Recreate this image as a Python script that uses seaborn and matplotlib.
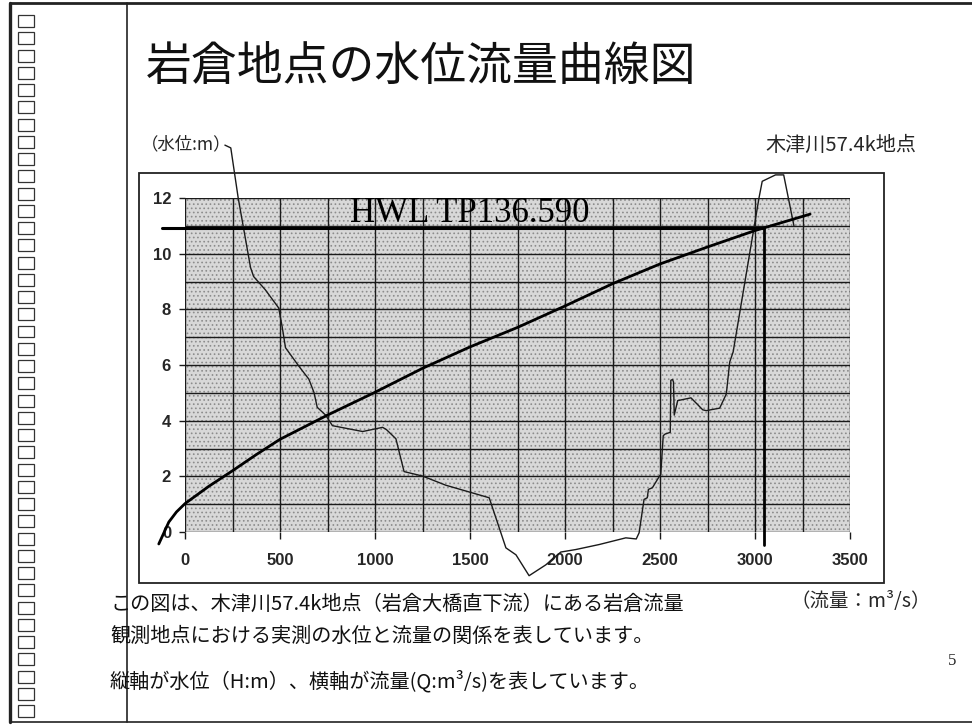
import matplotlib
matplotlib.use("Agg")
import matplotlib.pyplot as plt
from matplotlib.patches import Rectangle
from matplotlib.lines import Line2D
import seaborn as sns
import pandas as pd

# ---------------- data ----------------
# rating curve (discharge Q m3/s, stage H m)
rating_q = [-138, -85, -45, 0, 125, 250, 375, 500, 750, 1000, 1250, 1500,
            1750, 2000, 2250, 2500, 2750, 3000, 3290]
rating_h = [-0.43, 0.36, 0.72, 1.02, 1.64, 2.20, 2.78, 3.33, 4.20, 5.02, 5.88,
            6.65, 7.35, 8.12, 8.92, 9.63, 10.24, 10.83, 11.42]

# river cross-section overlay (thin line)
section_q = [210, 241, 280, 306, 345, 361, 423, 493, 511, 529, 599, 652, 679,
             696, 740, 776, 882, 935, 1040, 1060, 1110, 1153, 1250, 1373, 1601,
             1689, 1742, 1811, 1899, 1978, 2057, 2180, 2320, 2375, 2390, 2416,
             2433, 2439, 2460, 2492, 2504, 2517, 2527, 2554, 2557, 2566, 2571,
             2575, 2593, 2663, 2725, 2743, 2814, 2849, 2867, 2885, 3021, 3038,
             3108, 3151, 3205]
section_h = [13.9, 13.8, 12.0, 11.0, 9.5, 9.18, 8.70, 8.05, 7.39, 6.62, 5.96,
             5.49, 5.01, 4.48, 4.20, 3.82, 3.68, 3.61, 3.76, 3.68, 3.35, 2.17,
             2.01, 1.68, 1.23, -0.57, -0.82, -1.57, -1.18, -0.72, -0.63, -0.45,
             -0.21, -0.25, -0.03, 1.17, 1.23, 1.53, 1.59, 1.95, 2.07, 3.46,
             3.52, 3.58, 5.45, 5.48, 5.39, 4.20, 4.72, 4.82, 4.39, 4.36, 4.45,
             4.96, 6.11, 6.47, 12.0, 12.6, 12.83, 12.83, 11.0]

# HWL marker
hwl_level = 10.93
hwl_q_start = -121
hwl_cross_q = 3045
hwl_drop_to = -0.47

x_ticks = [0, 500, 1000, 1500, 2000, 2500, 3000, 3500]
y_ticks = [0, 2, 4, 6, 8, 10, 12]

title = "岩倉地点の水位流量曲線図"
y_label = "（水位:m）"
place_label = "木津川57.4k地点"
hwl_label = "HWL TP136.590"
unit_label = "（流量：m³/s）"
body_lines = ["この図は、木津川57.4k地点（岩倉大橋直下流）にある岩倉流量",
              "観測地点における実測の水位と流量の関係を表しています。",
              "縦軸が水位（H:m）、横軸が流量(Q:m³/s)を表しています。"]
page_no = "5"

# ---------------- style ----------------
sns.set_theme(style="white")
plt.rcParams["font.family"] = ["Noto Sans CJK JP", "DejaVu Sans"]
plt.rcParams["hatch.linewidth"] = 0.7

W, H = 972, 727
fig = plt.figure(figsize=(9.72, 7.27), dpi=100)
fig.patch.set_facecolor("white")


def fx(px):
    return px / W


def fy(py):
    return 1 - py / H


# slide frame
for (x0, y0, x1, y1, lw) in [(10, 3, 972, 3, 2.0), (10, 3, 10, 722, 2.4),
                             (10, 722, 972, 722, 1.2), (127, 3, 127, 722, 1.2)]:
    fig.add_artist(Line2D([fx(x0), fx(x1)], [fy(y0), fy(y1)], color="#222222",
                          lw=lw, transform=fig.transFigure))

# placeholder glyph boxes down the left margin
for i in range(41):
    top = 15 + i * 17.25
    fig.add_artist(Rectangle((fx(18), fy(top + 12)), 16 / W, 12 / H,
                             transform=fig.transFigure, fill=False,
                             edgecolor="#333333", lw=0.9))

# title
fig.text(fx(146), fy(68), title, fontsize=33, va="center", ha="left",
         color="#111111")

# chart outer box
fig.add_artist(Rectangle((fx(139), fy(583)), (884 - 139) / W, (583 - 173) / H,
                         transform=fig.transFigure, fill=False,
                         edgecolor="#222222", lw=1.3))

fig.text(fx(141), fy(144), y_label, fontsize=12.5, va="center", ha="left")
fig.text(fx(765), fy(145), place_label, fontsize=14.5, va="center", ha="left")

# ---------------- axes ----------------
ax = fig.add_axes([fx(185), fy(532), (850 - 185) / W, (532 - 198) / H])
ax.set_xlim(0, 3500)
ax.set_ylim(0, 12)
ax.set_facecolor("#d8d8d8")
ax.add_patch(Rectangle((0, 0), 3500, 12, facecolor="none", edgecolor="#8c8c8c",
                       hatch="....", lw=0, zorder=0.5))
for s in ax.spines.values():
    s.set_visible(False)

ax.set_xticks(x_ticks)
ax.set_yticks(y_ticks)
ax.set_xticks(range(0, 3501, 250), minor=True)
ax.set_yticks(range(0, 13), minor=True)
ax.grid(True, which="both", color="#1a1a1a", lw=1.0, zorder=1)
ax.set_axisbelow(True)
ax.tick_params(axis="x", which="major", length=5, width=1.0, color="#1a1a1a",
               pad=10, direction="out", bottom=True)
ax.tick_params(axis="y", which="major", length=4, width=1.0, color="#1a1a1a",
               pad=6, direction="out", left=True)
ax.tick_params(which="minor", length=0)
ax.set_xticklabels([str(v) for v in x_ticks], fontfamily="Liberation Sans",
                   fontweight="bold", fontsize=12)
ax.set_yticklabels([str(v) for v in y_ticks], fontfamily="Liberation Sans",
                   fontweight="bold", fontsize=12)

sec_df = pd.DataFrame({"Q": section_q, "H": section_h})
rat_df = pd.DataFrame({"Q": rating_q, "H": rating_h})

sns.lineplot(data=sec_df, x="Q", y="H", sort=False, estimator=None, ax=ax,
             color="#1a1a1a", lw=1.0)
ax.lines[-1].set_clip_on(False)
sns.lineplot(data=rat_df, x="Q", y="H", sort=False, estimator=None, ax=ax,
             color="black", lw=2.0)
ax.lines[-1].set_clip_on(False)

ax.plot([hwl_q_start, hwl_cross_q], [hwl_level, hwl_level], color="black",
        lw=2.2, clip_on=False, zorder=4)
ax.plot([hwl_cross_q, hwl_cross_q], [hwl_level, hwl_drop_to], color="black",
        lw=2.0, clip_on=False, zorder=4)
ax.text(870, 11.12, hwl_label, fontfamily="Liberation Serif", fontsize=25,
        va="baseline", ha="left", color="black", zorder=5)
ax.set_xlabel("")
ax.set_ylabel("")

# ---------------- notes ----------------
for txt, yc in zip(body_lines, [604, 636, 681]):
    fig.text(fx(110), fy(yc), txt, fontsize=14.5, va="center", ha="left",
             color="#111111")
fig.text(fx(790), fy(601), unit_label, fontsize=14, va="center", ha="left")
fig.text(fx(948), fy(661), page_no, fontfamily="Liberation Serif",
         fontsize=12, va="center", ha="left")

fig.savefig("out.png", dpi=100, facecolor="white")
